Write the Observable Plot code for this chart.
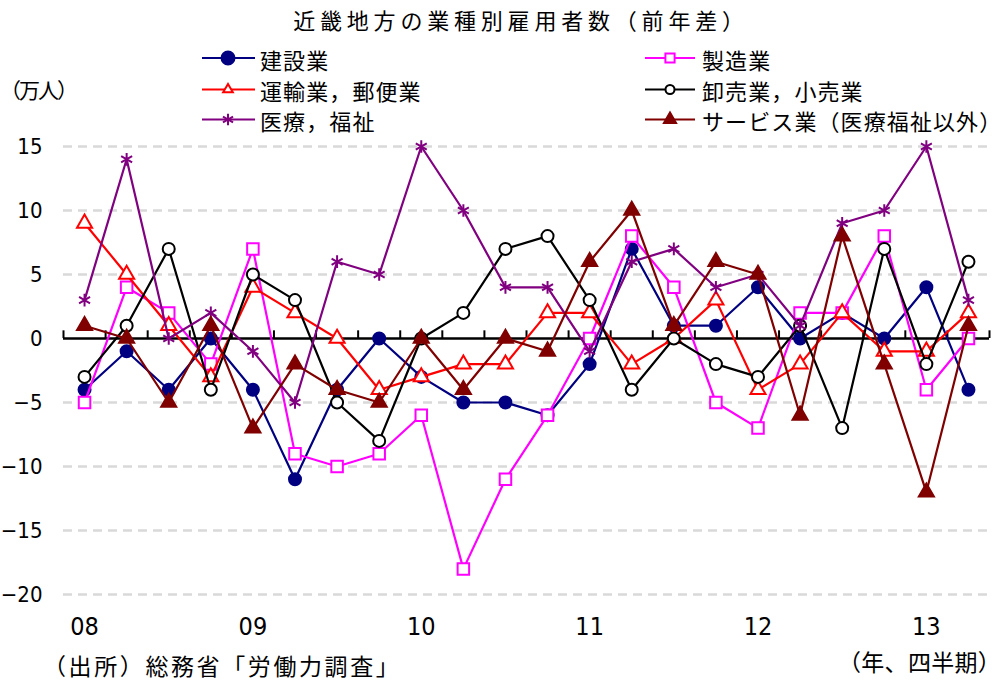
<!DOCTYPE html>
<html><head><meta charset="utf-8">
<script src="https://cdn.jsdelivr.net/npm/d3@7"></script>
<script src="https://cdn.jsdelivr.net/npm/@observablehq/plot@0.6"></script>
<style>
body{margin:0;background:#fff;}
#wrap{position:relative;width:1005px;height:681px;overflow:hidden;font-family:"Noto Sans CJK JP",sans-serif;color:#000;background:#fff;}
.t{position:absolute;white-space:nowrap;line-height:1;transform:translateY(-50%);}
#chart{position:absolute;left:0;top:130px;}
#legsvg{position:absolute;left:0;top:0;}
</style></head><body><div id="wrap"></div>
<script>
// ---- data ----
const quarters = ["08Q1","08Q2","08Q3","08Q4","09Q1","09Q2","09Q3","09Q4","10Q1","10Q2","10Q3","10Q4",
                  "11Q1","11Q2","11Q3","11Q4","12Q1","12Q2","12Q3","12Q4","13Q1","13Q2"];
const construction  = [-4,-1,-4,0,-4,-11,-4,0,-3,-5,-5,-6,-2,7,1,1,4,0,2,0,4,-4];
const manufacturing = [-5,4,2,-2,7,-9,-10,-9,-6,-18,-11,-6,0,8,4,-5,-7,2,2,8,-4,0];
const transport     = [9,5,1,-3,4,2,0,-4,-3,-2,-2,2,2,-2,0,3,-4,-2,2,-1,-1,2];
const wholesale     = [-3,1,7,-4,5,3,-5,-8,0,2,7,8,3,-4,0,-2,-3,1,-7,7,-2,6];
const medical       = [3,14,0,2,-1,-5,6,5,15,10,4,4,-1,6,7,4,5,1,9,10,15,3];
const services      = [1,0,-5,1,-7,-2,-4,-5,0,-4,0,-1,6,10,1,6,5,-6,8,-2,-12,1];
const seriesNames = ["建設業","製造業","運輸業，郵便業","卸売業，小売業","医療，福祉","サービス業（医療福祉以外）"];
const yearLabels = ["08","09","10","11","12","13"];
const yTicks = [15,10,5,0,-5,-10,-15,-20];
const titleText = "近畿地方の業種別雇用者数（前年差）";
const unitText = "（万人）";
const sourceText = "（出所）総務省「労働力調査」";
const xUnitText = "（年、四半期）";

// ---- styles ----
const seriesValues = [construction, manufacturing, transport, wholesale, medical, services];
const styles = [
  {color:"#000080", symbol:"circle",   fill:"#000080", r:6,   lr:6.5},
  {color:"#FF00FF", symbol:"square",   fill:"#ffffff", r:6.5, lr:5.2},
  {color:"#FF0000", symbol:"triangle", fill:"#ffffff", r:5.6, lr:3.6},
  {color:"#000000", symbol:"circle",   fill:"#ffffff", r:6,   lr:4.5},
  {color:"#800080", symbol:"asterisk", fill:"none",    r:6,   lr:5.5},
  {color:"#800000", symbol:"triangle", fill:"#800000", r:5.6, lr:4.5},
];
const numFont = '"Liberation Sans Narrow","DejaVu Sans Condensed",sans-serif';

const wrap = document.getElementById("wrap");
function addText(txt, left, top, size, ls, extra) {
  const d = document.createElement("div");
  d.className = "t";
  d.textContent = txt;
  d.style.left = left + "px";
  d.style.top = top + "px";
  d.style.fontSize = size + "px";
  d.style.letterSpacing = ls + "px";
  if (extra) Object.assign(d.style, extra);
  wrap.appendChild(d);
  return d;
}

// title
addText(titleText, 521, 19, 22, 4.8, {transform:"translate(-50%,-50%)"});
// unit
addText(unitText, 0, 89, 21, -2);
// legend text
const legPos = [[260,59],[702,59],[260,90],[702,90],[260,120],[702,120]];
seriesNames.forEach((n,k)=> addText(n, legPos[k][0], legPos[k][1], 22, 1.1));
// footer
addText(sourceText, 43, 665, 23, 2.6);
addText(xUnitText, 838, 661, 23, 0.3);

// legend swatches
const lsvg = d3.select(wrap).append("svg").attr("id","legsvg").attr("width",1005).attr("height",130);
const swatch = [[202,255,228,58],[645,695,670,58],[202,255,228,89.5],[645,695,670,89.5],[202,255,228,119.5],[645,695,670,119.5]];
const symMap = {circle:d3.symbolCircle, square:d3.symbolSquare, triangle:d3.symbolTriangle, asterisk:d3.symbolAsterisk};
styles.forEach((s,k)=>{
  const [x1,x2,cx,cy] = swatch[k];
  lsvg.append("line").attr("x1",x1).attr("x2",x2).attr("y1",cy).attr("y2",cy).attr("stroke",s.color).attr("stroke-width",2);
  lsvg.append("path").attr("d", d3.symbol(symMap[s.symbol], Math.PI*s.lr*s.lr)())
    .attr("transform",`translate(${cx},${cy})`).attr("fill",s.fill).attr("stroke",s.color).attr("stroke-width",2);
});

// chart
const boundaries = d3.range(quarters.length + 1).map(i => i - 0.5);
const yearIdx = yearLabels.map((d,k)=>k*4);
const marks = [
  Plot.ruleY(yTicks.filter(d=>d!==0), {stroke:"#d9d9d9", strokeWidth:2.5, strokeDasharray:"9,6"}),
  Plot.ruleY([0], {stroke:"#000", strokeWidth:2.5}),
  Plot.ruleX(boundaries, {x:d=>d, y1:0, y2:0.6, stroke:"#000", strokeWidth:2}),
  Plot.axisY(yTicks, {tickSize:0, tickPadding:21, fontSize:22, fontFamily:numFont, fill:"#000", label:null}),
  Plot.axisX(yearIdx, {tickSize:0, tickPadding:23, fontSize:25, fontFamily:numFont, fill:"#000", label:null,
                       tickFormat: i => yearLabels[i/4]}),
];
seriesValues.forEach((vals,k)=>{
  const s = styles[k];
  const data = vals.map((v,i)=>({i, v, q: quarters[i]}));
  marks.push(Plot.line(data, {x:"i", y:"v", stroke:s.color, strokeWidth:2.2}));
  marks.push(Plot.dot(data, {x:"i", y:"v", symbol:s.symbol, r:s.r, fill:s.fill, stroke:s.color, strokeWidth:2}));
});
const chart = Plot.plot({
  width:1005, height:515,
  marginLeft:63, marginRight:16, marginTop:16, marginBottom:51,
  x:{domain:[-0.5, quarters.length-0.5], label:null},
  y:{domain:[-20,15], label:null},
  style:{background:"transparent", overflow:"visible"},
  marks
});
chart.id = "chart";
wrap.insertBefore(chart, wrap.firstChild);
</script></body></html>
